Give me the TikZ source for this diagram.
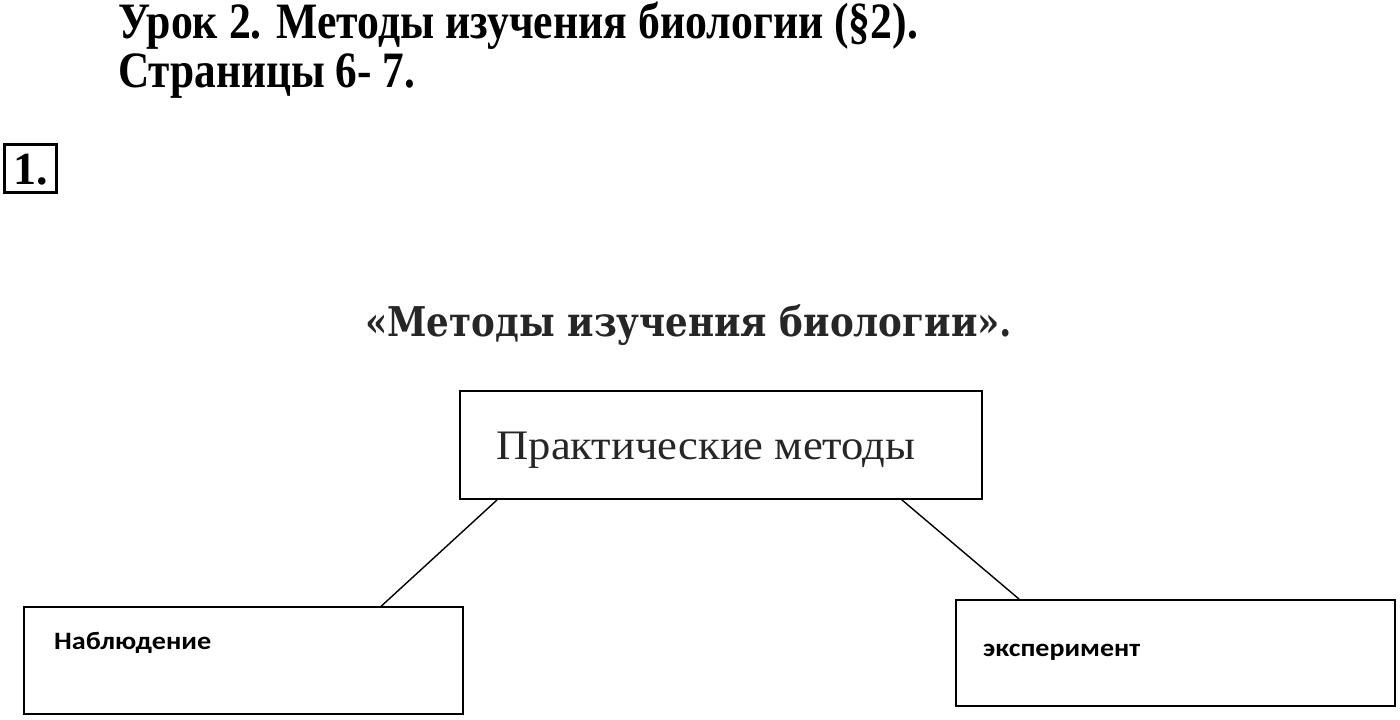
\documentclass[tikz,border=0pt]{standalone}
\usepackage{fontspec}
\usepackage{graphicx}
\setmainfont{Liberation Serif}
\newfontfamily\carlito{Carlito}
\newfontfamily\dvserif{DejaVu Serif}
\begin{document}
\begin{tikzpicture}[x=1pt,y=-1pt,
  titletext/.style={anchor=base west,inner sep=0pt,font=\fontsize{51}{55}\selectfont\bfseries},
  boxshape/.style={draw=black,line width=1.6pt,fill=none},
  conn/.style={draw=black,line width=1.4pt}]
\useasboundingbox (0,0) rectangle (1400,720);
\fill[white] (0,0) rectangle (1400,720);
% title
\node[titletext] (t1) at (118,38) {\resizebox{800pt}{\height}{Урок 2. Методы изучения биологии (§2).}};
\node[titletext] (t2) at (118,87) {\resizebox{297pt}{\height}{Страницы 6- 7.}};
% task number
\node[draw=black,line width=3pt,minimum width=52pt,minimum height=48pt,inner sep=0pt] (num) at (30,168) {};
\node[anchor=base,inner sep=0pt,font=\fontsize{46}{50}\selectfont\bfseries] (numtext) at (31,184) {1.};
% subtitle
\node[anchor=base west,inner sep=0pt,font=\dvserif\fontsize{41}{45}\selectfont\bfseries,text=black!85] (sub) at (365,336) {\resizebox{647pt}{\height}{«Методы изучения биологии».}};
% boxes
\node[boxshape,minimum width=522pt,minimum height=108pt,inner sep=0pt] (top) at (721,445) {};
\node[anchor=base,inner sep=0pt,font=\fontsize{42}{46}\selectfont,text=black!85] (toptext) at (706,459) {\resizebox{419pt}{\height}{Практические методы}};
\node[boxshape,minimum width=439pt,minimum height=107pt,inner sep=0pt] (left) at (243.5,660.5) {};
\node[anchor=base west,inner sep=0pt,font=\carlito\fontsize{25}{28}\selectfont\bfseries] (lefttext) at (54,649) {\resizebox{157pt}{\height}{Наблюдение}};
\node[boxshape,minimum width=439pt,minimum height=106pt,inner sep=0pt] (right) at (1175.5,653) {};
\node[anchor=base west,inner sep=0pt,font=\carlito\fontsize{25}{28}\selectfont\bfseries] (righttext) at (983,656) {\resizebox{157pt}{\height}{эксперимент}};
% connectors
\draw[conn] ([xshift=38pt]top.south west) -- ([xshift=358pt]left.north west);
\draw[conn] ([xshift=-81pt]top.south east) -- ([xshift=64pt]right.north west);
\end{tikzpicture}
\end{document}
